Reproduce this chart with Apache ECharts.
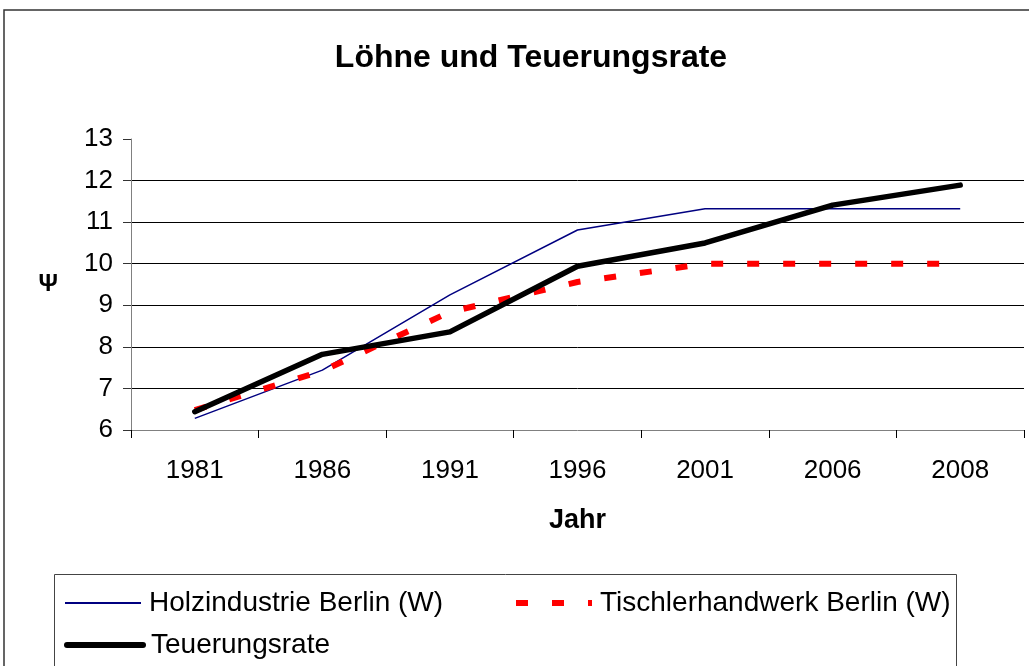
<!DOCTYPE html>
<html>
<head>
<meta charset="utf-8">
<script src="https://cdn.jsdelivr.net/npm/echarts@6/dist/echarts.min.js"></script>
<style>
html,body{margin:0;padding:0;background:#fff;}
#chart{width:1029px;height:666px;}
</style>
</head>
<body>
<div id="chart"></div>
<script>
const years = ['1981','1986','1991','1996','2001','2006','2008'];
const holzindustrie = [6.28, 7.44, 9.25, 10.81, 11.32, 11.32, 11.32];
const tischlerhandwerk = [6.48, 7.42, 8.84, 9.56, 10.0, 10.0, 10.0];
const teuerungsrate = [6.44, 7.82, 8.36, 9.94, 10.5, 11.41, 11.89];
const seriesNames = ['Holzindustrie Berlin (W)', 'Tischlerhandwerk Berlin (W)', 'Teuerungsrate'];

const FONT = 'Liberation Sans, Arial, sans-serif';
const chart = echarts.init(document.getElementById('chart'), null, {renderer: 'canvas'});

const legendBase = {
  orient: 'horizontal',
  itemWidth: 76,
  itemHeight: 20,
  itemGap: 10,
  padding: 0,
  itemStyle: {opacity: 0},
  textStyle: {fontFamily: FONT, fontSize: 28, color: '#000', lineHeight: 30, padding: [8,0,0,3]},
  selectedMode: false
};

chart.setOption({
  backgroundColor: '#fff',
  animation: false,
  title: {
    text: 'Löhne und Teuerungsrate',
    left: 526,
    textAlign: 'center',
    top: 37,
    textStyle: {fontFamily: FONT, fontSize: 32, fontWeight: 'bold', color: '#000'}
  },
  graphic: [
    {type: 'rect', shape: {x: 4, y: 10, width: 1100, height: 700}, style: {fill: 'none', stroke: '#333', lineWidth: 1.5}, silent: true},
    {type: 'rect', shape: {x: 54.5, y: 574.5, width: 902, height: 100}, style: {fill: 'none', stroke: '#444', lineWidth: 1}, silent: true}
  ],
  legend: [
    Object.assign({}, legendBase, {left: 64, top: 584, data: [seriesNames[0]], lineStyle: {width: 2}}),
    Object.assign({}, legendBase, {left: 513, top: 584, data: [seriesNames[1]], lineStyle: {width: 6}}),
    Object.assign({}, legendBase, {left: 64, top: 626, data: [seriesNames[2]], lineStyle: {width: 6}})
  ],
  grid: {left: 131, right: 5, top: 139, bottom: 236, containLabel: false},
  xAxis: {
    type: 'category',
    data: years,
    boundaryGap: true,
    name: 'Jahr',
    nameLocation: 'middle',
    nameGap: 77,
    nameTextStyle: {fontFamily: FONT, fontSize: 27, fontWeight: 'bold', color: '#000'},
    axisLine: {show: true, lineStyle: {color: '#808080', width: 1}},
    axisTick: {show: true, alignWithLabel: false, length: 8, lineStyle: {color: '#000'}},
    axisLabel: {fontFamily: FONT, fontSize: 26, color: '#000', margin: 28},
    splitLine: {show: false}
  },
  yAxis: {
    type: 'value',
    min: 6,
    max: 13,
    interval: 1,
    name: 'Ψ',
    nameLocation: 'middle',
    nameRotate: 0,
    nameGap: 73,
    nameTextStyle: {fontFamily: FONT, fontSize: 24, fontWeight: 'bold', color: '#000'},
    axisLine: {show: true, lineStyle: {color: '#808080', width: 1}},
    axisTick: {show: true, inside: false, length: 8, lineStyle: {color: '#333'}},
    axisLabel: {fontFamily: FONT, fontSize: 26, color: '#000', margin: 18},
    splitLine: {show: true, showMinLine: false, showMaxLine: false, lineStyle: {color: '#000', width: 1}}
  },
  series: [
    {
      name: seriesNames[0], type: 'line', data: holzindustrie, symbol: 'none',
      lineStyle: {color: '#000080', width: 1.5}, itemStyle: {color: '#000080'}
    },
    {
      name: seriesNames[1], type: 'line', data: tischlerhandwerk, symbol: 'none',
      lineStyle: {color: '#ff0000', width: 6, type: [12, 24], cap: 'butt'}, itemStyle: {color: '#ff0000'}
    },
    {
      name: seriesNames[2], type: 'line', data: teuerungsrate, symbol: 'none',
      lineStyle: {color: '#000000', width: 5.5, cap: 'round', join: 'round'}, itemStyle: {color: '#000000'}
    }
  ]
});
</script>
</body>
</html>
